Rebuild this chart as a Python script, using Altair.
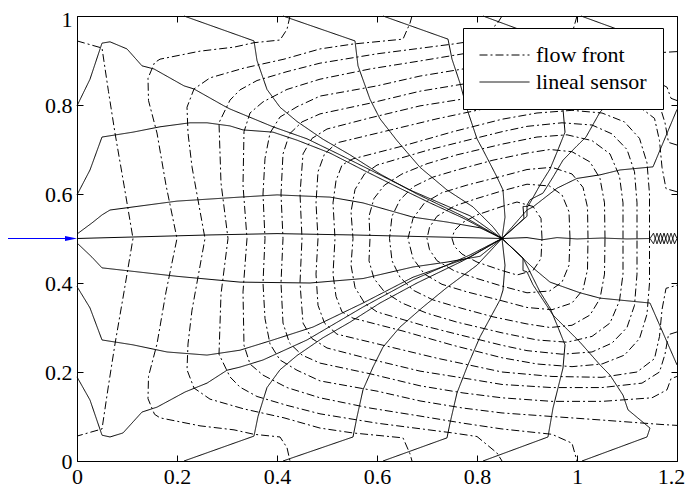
import altair as alt
import pandas as pd

# ---------------- data ----------------
x_ticks = [0, 0.2, 0.4, 0.6, 0.8, 1.0, 1.2]
y_ticks = [0, 0.2, 0.4, 0.6, 0.8, 1.0]
legend_labels = ["flow front", "lineal sensor"]

# flow fronts (dash-dot), each a list of (x, y)
front_01 = [(0, 0.944), (0.05, 0.928), (0.063, 0.83), (0.076, 0.737), (0.094, 0.62), (0.112, 0.5),
            (0.094, 0.38), (0.076, 0.263), (0.063, 0.17), (0.05, 0.072), (0, 0.056)]
front_02 = [(0.426, 1), (0.42, 0.97), (0.406, 0.946), (0.354, 0.94), (0.314, 0.93), (0.246, 0.921),
            (0.166, 0.903), (0.155, 0.895), (0.142, 0.86), (0.143, 0.81), (0.16, 0.737), (0.178, 0.62),
            (0.2, 0.5), (0.178, 0.38), (0.16, 0.263), (0.143, 0.19), (0.142, 0.14), (0.155, 0.105),
            (0.166, 0.097), (0.246, 0.079), (0.314, 0.07), (0.354, 0.06), (0.406, 0.054), (0.42, 0.03),
            (0.426, 0)]
front_03 = [(0.67, 1), (0.666, 0.984), (0.652, 0.948), (0.552, 0.937), (0.486, 0.926), (0.414, 0.903),
            (0.334, 0.883), (0.266, 0.861), (0.234, 0.836), (0.22, 0.795), (0.222, 0.737), (0.23, 0.661),
            (0.256, 0.5), (0.23, 0.339), (0.222, 0.263), (0.22, 0.205), (0.234, 0.164), (0.266, 0.139),
            (0.334, 0.117), (0.414, 0.097), (0.486, 0.074), (0.552, 0.063), (0.652, 0.052), (0.666, 0.016),
            (0.67, 0)]
front_04 = [(0.85, 1), (0.84, 0.982), (0.8, 0.945), (0.752, 0.937), (0.6, 0.915), (0.486, 0.894),
            (0.42, 0.875), (0.36, 0.855), (0.326, 0.834), (0.306, 0.811), (0.284, 0.76), (0.288, 0.625),
            (0.302, 0.5), (0.288, 0.375), (0.284, 0.24), (0.306, 0.189), (0.326, 0.166), (0.36, 0.145),
            (0.42, 0.125), (0.486, 0.106), (0.6, 0.085), (0.752, 0.063), (0.8, 0.055), (0.84, 0.018),
            (0.85, 0)]
front_05 = [(1.0, 1), (0.99, 0.96), (0.95, 0.94), (0.85, 0.928), (0.772, 0.915), (0.686, 0.899),
            (0.586, 0.881), (0.486, 0.858), (0.42, 0.835), (0.372, 0.807), (0.346, 0.782), (0.334, 0.74),
            (0.332, 0.62), (0.34, 0.5), (0.332, 0.38), (0.334, 0.26), (0.346, 0.218), (0.372, 0.193),
            (0.42, 0.165), (0.486, 0.142), (0.586, 0.119), (0.686, 0.101), (0.772, 0.085), (0.85, 0.072),
            (0.95, 0.06), (0.99, 0.04), (1.0, 0)]
front_06 = [(1.2, 0.92), (1.17, 0.918), (1.05, 0.908), (0.95, 0.9), (0.85, 0.892), (0.772, 0.881),
            (0.686, 0.865), (0.6, 0.843), (0.486, 0.82), (0.44, 0.796), (0.406, 0.773), (0.386, 0.737),
            (0.376, 0.68), (0.372, 0.6), (0.376, 0.5), (0.372, 0.4), (0.376, 0.32), (0.386, 0.263),
            (0.406, 0.227), (0.44, 0.204), (0.486, 0.18), (0.6, 0.157), (0.686, 0.135), (0.772, 0.119),
            (0.85, 0.108), (0.95, 0.1), (1.05, 0.092), (1.17, 0.082), (1.2, 0.08)]
front_07 = [(1.2, 0.81), (1.188, 0.815), (1.18, 0.84), (1.15, 0.858), (1.05, 0.866), (0.95, 0.866),
            (0.85, 0.858), (0.772, 0.847), (0.686, 0.831), (0.586, 0.804), (0.486, 0.78), (0.45, 0.762),
            (0.425, 0.735), (0.412, 0.69), (0.408, 0.6), (0.412, 0.5), (0.408, 0.4), (0.412, 0.31),
            (0.425, 0.265), (0.45, 0.238), (0.486, 0.22), (0.586, 0.196), (0.686, 0.169), (0.772, 0.153),
            (0.85, 0.142), (0.95, 0.134), (1.05, 0.134), (1.15, 0.142), (1.18, 0.16), (1.188, 0.185),
            (1.2, 0.19)]
front_08 = [(1.2, 0.71), (1.183, 0.716), (1.176, 0.76), (1.165, 0.8), (1.13, 0.825), (1.05, 0.835),
            (0.95, 0.835), (0.85, 0.828), (0.786, 0.816), (0.686, 0.798), (0.586, 0.771), (0.5, 0.746),
            (0.47, 0.725), (0.452, 0.69), (0.446, 0.6), (0.45, 0.5), (0.446, 0.4), (0.452, 0.31),
            (0.47, 0.275), (0.5, 0.254), (0.586, 0.229), (0.686, 0.202), (0.786, 0.184), (0.85, 0.172),
            (0.95, 0.165), (1.05, 0.165), (1.13, 0.175), (1.165, 0.2), (1.176, 0.24), (1.183, 0.284),
            (1.2, 0.29)]
front_09 = [(1.2, 0.605), (1.178, 0.612), (1.17, 0.66), (1.165, 0.72), (1.155, 0.77), (1.12, 0.8),
            (1.05, 0.812), (0.95, 0.81), (0.85, 0.8), (0.72, 0.769), (0.62, 0.742), (0.52, 0.715),
            (0.495, 0.69), (0.482, 0.65), (0.478, 0.58), (0.482, 0.5), (0.478, 0.42), (0.482, 0.35),
            (0.495, 0.31), (0.52, 0.285), (0.62, 0.258), (0.72, 0.231), (0.85, 0.2), (0.95, 0.19),
            (1.05, 0.188), (1.12, 0.2), (1.155, 0.23), (1.165, 0.28), (1.17, 0.34), (1.178, 0.388),
            (1.2, 0.395)]
front_10 = [(1.145, 0.5), (1.145, 0.6), (1.14, 0.67), (1.125, 0.725), (1.095, 0.762), (1.05, 0.782),
            (0.99, 0.788), (0.92, 0.782), (0.85, 0.768), (0.752, 0.74), (0.652, 0.708), (0.552, 0.679),
            (0.53, 0.665), (0.518, 0.63), (0.512, 0.58), (0.516, 0.5), (0.512, 0.42), (0.518, 0.37),
            (0.53, 0.335), (0.552, 0.321), (0.652, 0.292), (0.752, 0.26), (0.85, 0.232), (0.92, 0.218),
            (0.99, 0.212), (1.05, 0.218), (1.095, 0.238), (1.125, 0.275), (1.14, 0.33), (1.145, 0.4),
            (1.145, 0.5)]
front_11 = [(1.12, 0.5), (1.12, 0.58), (1.115, 0.65), (1.1, 0.7), (1.07, 0.735), (1.03, 0.755),
            (0.97, 0.76), (0.9, 0.752), (0.85, 0.74), (0.76, 0.715), (0.7, 0.698), (0.6, 0.665),
            (0.575, 0.645), (0.556, 0.61), (0.548, 0.56), (0.552, 0.5), (0.548, 0.44), (0.556, 0.39),
            (0.575, 0.355), (0.6, 0.335), (0.7, 0.302), (0.76, 0.285), (0.85, 0.26), (0.9, 0.248),
            (0.97, 0.24), (1.03, 0.245), (1.07, 0.265), (1.1, 0.3), (1.115, 0.35), (1.12, 0.42),
            (1.12, 0.5)]
front_12 = [(1.092, 0.5), (1.092, 0.58), (1.085, 0.64), (1.066, 0.69), (1.03, 0.72), (0.98, 0.733),
            (0.92, 0.728), (0.85, 0.712), (0.76, 0.688), (0.7, 0.668), (0.65, 0.645), (0.615, 0.62),
            (0.594, 0.59), (0.584, 0.55), (0.586, 0.5), (0.584, 0.45), (0.594, 0.41), (0.615, 0.38),
            (0.65, 0.355), (0.7, 0.332), (0.76, 0.312), (0.85, 0.288), (0.92, 0.272), (0.98, 0.267),
            (1.03, 0.28), (1.066, 0.31), (1.085, 0.36), (1.092, 0.42), (1.092, 0.5)]
front_13 = [(1.056, 0.5), (1.055, 0.58), (1.046, 0.635), (1.026, 0.672), (0.99, 0.695), (0.946, 0.7),
            (0.9, 0.692), (0.832, 0.676), (0.76, 0.654), (0.712, 0.638), (0.672, 0.616), (0.646, 0.587),
            (0.63, 0.55), (0.625, 0.5), (0.63, 0.45), (0.646, 0.413), (0.672, 0.384), (0.712, 0.362),
            (0.76, 0.346), (0.832, 0.324), (0.9, 0.308), (0.946, 0.3), (0.99, 0.305), (1.026, 0.328),
            (1.046, 0.365), (1.055, 0.42), (1.056, 0.5)]
front_14 = [(1.022, 0.5), (1.021, 0.57), (1.012, 0.615), (0.99, 0.645), (0.95, 0.66), (0.9, 0.655),
            (0.85, 0.64), (0.78, 0.62), (0.73, 0.603), (0.695, 0.58), (0.672, 0.545), (0.662, 0.5),
            (0.672, 0.455), (0.695, 0.42), (0.73, 0.397), (0.78, 0.38), (0.85, 0.36), (0.9, 0.345),
            (0.95, 0.34), (0.99, 0.355), (1.012, 0.385), (1.021, 0.43), (1.022, 0.5)]
front_15 = [(0.986, 0.5), (0.984, 0.56), (0.97, 0.598), (0.945, 0.618), (0.9, 0.622), (0.85, 0.607),
            (0.8, 0.59), (0.755, 0.573), (0.72, 0.55), (0.705, 0.525), (0.7, 0.5), (0.705, 0.475),
            (0.72, 0.45), (0.755, 0.427), (0.8, 0.41), (0.85, 0.393), (0.9, 0.378), (0.945, 0.382),
            (0.97, 0.402), (0.984, 0.44), (0.986, 0.5)]
front_16 = [(0.93, 0.5), (0.928, 0.545), (0.912, 0.572), (0.88, 0.582), (0.85, 0.572), (0.8, 0.553),
            (0.77, 0.535), (0.755, 0.518), (0.75, 0.5), (0.755, 0.482), (0.77, 0.465), (0.8, 0.447),
            (0.85, 0.428), (0.88, 0.418), (0.912, 0.428), (0.928, 0.455), (0.93, 0.5)]

# lineal sensors (solid)
sensor_center = [(0, 0.5), (0.1, 0.503), (0.266, 0.508), (0.4, 0.511), (0.55, 0.508), (0.7, 0.504), (0.85, 0.5)]
sensor_center_right = [(0.85, 0.5), (0.9, 0.502), (0.93, 0.497), (0.96, 0.502), (1.0, 0.499), (1.05, 0.501),
                       (1.1, 0.499), (1.146, 0.5)]
sensor_zigzag_a = [(1.146, 0.5), (1.153, 0.512), (1.16, 0.488), (1.167, 0.512), (1.174, 0.488),
                   (1.181, 0.512), (1.188, 0.488), (1.195, 0.512), (1.2, 0.5)]
sensor_zigzag_b = [(1.146, 0.5), (1.153, 0.488), (1.16, 0.512), (1.167, 0.488), (1.174, 0.512),
                   (1.181, 0.488), (1.188, 0.512), (1.195, 0.488), (1.2, 0.5)]
sensor_l2 = [(0, 0.51), (0.03, 0.535), (0.05, 0.553), (0.066, 0.564), (0.2, 0.584), (0.326, 0.593),
             (0.4, 0.598), (0.506, 0.593), (0.572, 0.58), (0.606, 0.569), (0.672, 0.548), (0.74, 0.537),
             (0.806, 0.524), (0.85, 0.5)]
sensor_l2b = [(0, 0.49), (0.03, 0.458), (0.05, 0.434), (0.066, 0.432), (0.2, 0.415), (0.326, 0.402),
              (0.466, 0.4), (0.572, 0.41), (0.672, 0.436), (0.74, 0.447), (0.806, 0.46), (0.85, 0.5)]
sensor_l3 = [(0, 0.598), (0.026, 0.654), (0.05, 0.728), (0.112, 0.739), (0.166, 0.751), (0.226, 0.76),
             (0.26, 0.76), (0.306, 0.753), (0.332, 0.744), (0.392, 0.739), (0.44, 0.721), (0.506, 0.692),
             (0.572, 0.654), (0.64, 0.616), (0.706, 0.58), (0.772, 0.546), (0.85, 0.5)]
sensor_l3b = [(0, 0.392), (0.026, 0.344), (0.05, 0.272), (0.112, 0.261), (0.18, 0.245), (0.26, 0.238),
              (0.326, 0.249), (0.346, 0.256), (0.392, 0.272), (0.472, 0.301), (0.572, 0.355),
              (0.672, 0.413), (0.786, 0.458), (0.85, 0.5)]
sensor_l4 = [(0, 0.798), (0.026, 0.858), (0.05, 0.939), (0.066, 0.942), (0.1, 0.926), (0.13, 0.888),
             (0.154, 0.881), (0.214, 0.843), (0.234, 0.836), (0.294, 0.798), (0.306, 0.791), (0.392, 0.751),
             (0.46, 0.724), (0.526, 0.688), (0.606, 0.643), (0.666, 0.609), (0.74, 0.573), (0.786, 0.551),
             (0.85, 0.5)]
sensor_l4b = [(0, 0.189), (0.026, 0.137), (0.05, 0.058), (0.066, 0.054), (0.092, 0.063), (0.13, 0.11),
              (0.16, 0.121), (0.216, 0.155), (0.26, 0.175), (0.3, 0.204), (0.326, 0.211), (0.372, 0.227),
              (0.46, 0.272), (0.572, 0.346), (0.672, 0.407), (0.786, 0.463), (0.85, 0.5)]
sensor_l5 = [(0.214, 1), (0.354, 0.944), (0.36, 0.9), (0.38, 0.835), (0.406, 0.795), (0.44, 0.763),
             (0.492, 0.723), (0.546, 0.688), (0.606, 0.645), (0.68, 0.6), (0.772, 0.55), (0.85, 0.5)]
sensor_l5b = [(0.214, 0), (0.354, 0.056), (0.362, 0.1), (0.38, 0.165), (0.406, 0.205), (0.44, 0.237),
              (0.492, 0.277), (0.546, 0.312), (0.606, 0.355), (0.68, 0.4), (0.772, 0.45), (0.85, 0.5)]
sensor_l6 = [(0.412, 1), (0.556, 0.944), (0.562, 0.888), (0.586, 0.813), (0.606, 0.769), (0.64, 0.72),
             (0.686, 0.66), (0.74, 0.609), (0.792, 0.571), (0.832, 0.526), (0.85, 0.5)]
sensor_l6b = [(0.412, 0), (0.552, 0.054), (0.56, 0.099), (0.572, 0.16), (0.592, 0.211), (0.612, 0.256),
              (0.646, 0.301), (0.692, 0.346), (0.74, 0.39), (0.8, 0.44), (0.85, 0.5)]
sensor_l7 = [(0.612, 1), (0.742, 0.948), (0.75, 0.903), (0.766, 0.849), (0.78, 0.791), (0.8, 0.724),
             (0.812, 0.699), (0.84, 0.638), (0.852, 0.609), (0.856, 0.548), (0.85, 0.5)]
sensor_l7b = [(0.612, 0), (0.74, 0.052), (0.746, 0.085), (0.76, 0.153), (0.78, 0.211), (0.806, 0.279),
              (0.846, 0.362), (0.852, 0.384), (0.856, 0.44), (0.85, 0.5)]
sensor_l8 = [(0.812, 1), (0.942, 0.946), (0.952, 0.881), (0.972, 0.791), (0.976, 0.739), (0.96, 0.694),
             (0.946, 0.656), (0.926, 0.62), (0.902, 0.572), (0.892, 0.572), (0.894, 0.545), (0.85, 0.5)]
sensor_l8b = [(0.812, 0), (0.942, 0.054), (0.952, 0.119), (0.972, 0.209), (0.976, 0.261), (0.96, 0.306),
              (0.946, 0.344), (0.926, 0.38), (0.902, 0.434), (0.892, 0.456), (0.85, 0.5)]
sensor_l9 = [(1.008, 1), (1.14, 0.946), (1.146, 0.926), (1.102, 0.885), (1.092, 0.852), (1.066, 0.807),
             (1.046, 0.784), (1.018, 0.728), (0.998, 0.706), (0.972, 0.676), (0.952, 0.638), (0.932, 0.602),
             (0.906, 0.587), (0.9, 0.575), (0.9, 0.55), (0.85, 0.5)]
sensor_l9b = [(1.01, 0), (1.14, 0.054), (1.146, 0.074), (1.102, 0.115), (1.092, 0.148), (1.066, 0.193),
              (1.046, 0.216), (1.006, 0.267), (0.952, 0.328), (0.912, 0.396), (0.9, 0.425), (0.892, 0.428),
              (0.892, 0.456), (0.85, 0.5)]
sensor_l10 = [(1.2, 0.79), (1.152, 0.661), (1.086, 0.654), (1.046, 0.643), (1.0, 0.635), (0.96, 0.613),
              (0.912, 0.571), (0.9, 0.564), (0.85, 0.5)]
sensor_l10b = [(1.2, 0.216), (1.146, 0.355), (1.046, 0.366), (1.006, 0.378), (0.946, 0.402),
               (0.912, 0.434), (0.85, 0.5)]

flow_fronts = [front_01, front_02, front_03, front_04, front_05, front_06, front_07, front_08,
               front_09, front_10, front_11, front_12, front_13, front_14, front_15, front_16]
lineal_sensors = [sensor_center, sensor_center_right, sensor_zigzag_a, sensor_zigzag_b,
                  sensor_l2, sensor_l2b, sensor_l3, sensor_l3b, sensor_l4, sensor_l4b,
                  sensor_l5, sensor_l5b, sensor_l6, sensor_l6b, sensor_l7, sensor_l7b,
                  sensor_l8, sensor_l8b, sensor_l9, sensor_l9b, sensor_l10, sensor_l10b]

# inlet arrow at the left edge
inlet_arrow_x = [-0.154, -0.022]
inlet_head_x = [-0.012]
inlet_y = [0.5]

# ---------------- build tables ----------------
rows = []
for i, pts in enumerate(flow_fronts):
    for j, (x, y) in enumerate(pts):
        rows.append({"id": f"front{i}", "kind": legend_labels[0], "order": j, "x": x, "y": y})
for i, pts in enumerate(lineal_sensors):
    for j, (x, y) in enumerate(pts):
        rows.append({"id": f"sensor{i}", "kind": legend_labels[1], "order": j, "x": x, "y": y})
df = pd.DataFrame(rows)

arrow_df = pd.DataFrame({"x": [inlet_arrow_x[0]], "x2": [inlet_arrow_x[1]], "y": inlet_y})
head_df = pd.DataFrame({"x": inlet_head_x, "y": inlet_y})
frame_df = pd.DataFrame({"x": [0, 1.2], "y": [0, 1]})

FONT = "Liberation Serif"
xs = alt.Scale(domain=[0, 1.2], nice=False, zero=False)
ys = alt.Scale(domain=[0, 1], nice=False, zero=False)

common_axis = dict(grid=False, domain=False, ticks=True, tickSize=6, offset=-6, tickColor="black",
                   tickWidth=1, title=None, labelFont=FONT, labelFontSize=22, labelColor="black",
                   labelOverlap=False, format="~g")

lines = alt.Chart(df).mark_line(strokeWidth=1, color="black").encode(
    x=alt.X("x:Q", scale=xs, axis=alt.Axis(
        values=x_ticks, orient="bottom", labelPadding=5, labelFlush=False,
        labelOffset={"condition": {"test": "datum.value > 1.19", "value": -6}, "value": 0},
        **common_axis)),
    y=alt.Y("y:Q", scale=ys, axis=alt.Axis(
        values=y_ticks, orient="left", labelPadding=5,
        labelOffset={"condition": {"test": "datum.value > 0.99", "value": 3}, "value": 0},
        **common_axis)),
    detail="id:N",
    order="order:Q",
    strokeDash=alt.StrokeDash(
        "kind:N",
        scale=alt.Scale(domain=legend_labels, range=[[8, 3, 2, 3], [1, 0]]),
        legend=alt.Legend(title=None, orient="none", legendX=386, legendY=12, direction="vertical",
                          fillColor="white", strokeColor="black", padding=16,
                          symbolType="stroke", symbolSize=2500, symbolStrokeWidth=1,
                          symbolStrokeColor="black", clipHeight=22, rowPadding=5,
                          labelFont=FONT, labelFontSize=22, labelColor="black", labelOffset=6,
                          labelLimit=400),
    ),
)

frame_ticks = alt.Chart(frame_df).mark_point(opacity=0).encode(
    x=alt.X("x:Q", scale=xs, axis=alt.Axis(values=x_ticks, orient="top", labels=False, grid=False,
                                           domain=False, tickSize=6, offset=-6, tickColor="black",
                                           title=None)),
    y=alt.Y("y:Q", scale=ys, axis=alt.Axis(values=y_ticks, orient="right", labels=False, grid=False,
                                           domain=False, tickSize=6, offset=-6, tickColor="black",
                                           title=None)),
)

arrow = alt.Chart(arrow_df).mark_rule(color="#0000ff", strokeWidth=1).encode(
    x=alt.X("x:Q", scale=xs, axis=None), x2="x2:Q", y=alt.Y("y:Q", scale=ys, axis=None)
)
head = alt.Chart(head_df).mark_point(shape="M-1,-0.4L1,0L-1,0.4Z", filled=True, size=144,
                                     color="#0000ff", opacity=1).encode(
    x=alt.X("x:Q", scale=xs, axis=None), y=alt.Y("y:Q", scale=ys, axis=None)
)

chart = alt.layer(lines, frame_ticks, arrow, head).resolve_axis(
    x="independent", y="independent"
).properties(
    width=600, height=445,
    autosize=alt.AutoSizeParams(type="none"),
    padding={"left": 69, "top": 8, "right": 8, "bottom": 30},
    background="white",
).configure_view(stroke="black", strokeWidth=1)

chart.save("out.html", embed_options={"renderer": "svg", "actions": False})
